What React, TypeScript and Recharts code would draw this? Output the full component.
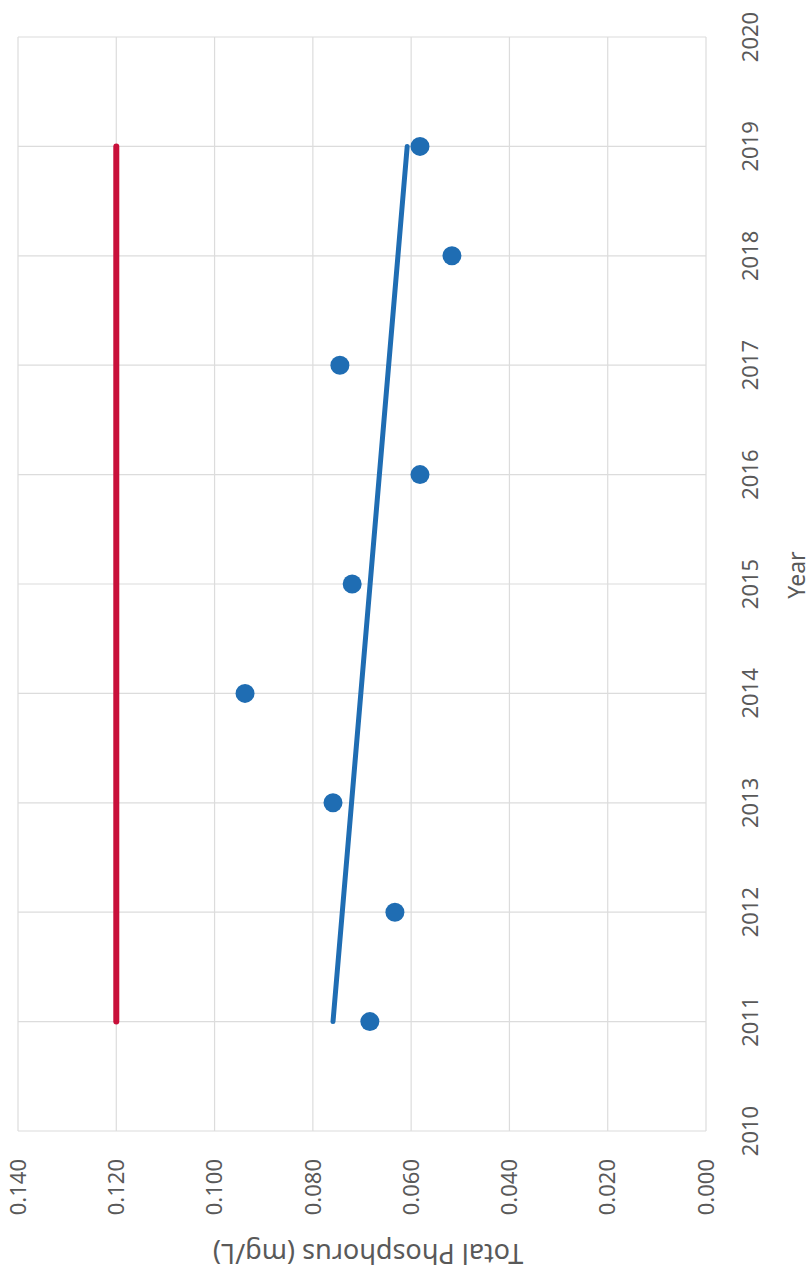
import React from 'react';
import { ScatterChart, Scatter, XAxis, YAxis, CartesianGrid, Label } from 'recharts';

const years = [2011, 2012, 2013, 2014, 2015, 2016, 2017, 2018, 2019];
const tpValues = [0.0684, 0.0633, 0.0759, 0.0938, 0.072, 0.0582, 0.0745, 0.0517, 0.0582];
const trendYears = [2011, 2019];
const trendValues = [0.0759, 0.0608];
const limitYears = [2011, 2019];
const limitValues = [0.12, 0.12];
const tpTicks = [0, 0.02, 0.04, 0.06, 0.08, 0.1, 0.12, 0.14];
const yearTicks = [2010, 2011, 2012, 2013, 2014, 2015, 2016, 2017, 2018, 2019, 2020];

const points = years.map((y, i) => ({ year: y, tp: tpValues[i] }));
const trend = trendYears.map((y, i) => ({ year: y, tp: trendValues[i] }));
const limit = limitYears.map((y, i) => ({ year: y, tp: limitValues[i] }));

const FONT = '"Noto Sans", sans-serif';
const TXT = '#595959';

const XTick = (props: any) => {
  const { x, payload } = props;
  return (
    <text
      transform={`translate(${x},1159) rotate(-90)`}
      textAnchor="end"
      dy="0.35em"
      fontSize={22}
      fontFamily={FONT}
      fill={TXT}
    >
      {Number(payload.value).toFixed(3)}
    </text>
  );
};

const YTick = (props: any) => {
  const { y, payload } = props;
  return (
    <text
      transform={`translate(750,${y}) rotate(-90)`}
      textAnchor="middle"
      dy="0.35em"
      fontSize={22}
      fontFamily={FONT}
      fill={TXT}
    >
      {payload.value}
    </text>
  );
};

const XTitle = (props: any) => {
  const vb = props.viewBox || {};
  const cx = (vb.x ?? 18) + (vb.width ?? 688) / 2 + 6;
  return (
    <text
      transform={`translate(${cx},1253) rotate(180)`}
      textAnchor="middle"
      dy="0.35em"
      fontSize={27}
      fontFamily={FONT}
      fill={TXT}
    >
      Total Phosphorus (mg/L)
    </text>
  );
};

const YTitle = (props: any) => {
  const vb = props.viewBox || {};
  const cy = (vb.y ?? 37) + (vb.height ?? 1094) / 2 - 9;
  return (
    <text
      transform={`translate(797,${cy}) rotate(-90)`}
      textAnchor="middle"
      dy="0.35em"
      fontSize={23}
      fontFamily={FONT}
      fill={TXT}
    >
      Year
    </text>
  );
};

const Dot = (props: any) => {
  const { cx, cy } = props;
  return <circle cx={cx} cy={cy} r={9.5} fill="#1f6db3" />;
};

const NoShape = () => <g />;

export default function App() {
  return (
    <div style={{ position: 'absolute', left: 0, top: 0, background: '#fff' }}>
      <ScatterChart
        width={812}
        height={1279}
        margin={{ top: 37, left: 18, right: 0, bottom: 0 }}
      >
        <CartesianGrid stroke="#dcdcdc" strokeWidth={1.2} />
        <XAxis
          type="number"
          dataKey="tp"
          domain={[0, 0.14]}
          ticks={tpTicks}
          reversed
          height={148}
          axisLine={false}
          tickLine={false}
          tick={<XTick />}
          interval={0}
        >
          <Label content={<XTitle />} />
        </XAxis>
        <YAxis
          type="number"
          dataKey="year"
          orientation="right"
          domain={[2010, 2020]}
          ticks={yearTicks}
          width={106}
          axisLine={false}
          tickLine={false}
          tick={<YTick />}
          interval={0}
        >
          <Label content={<YTitle />} />
        </YAxis>
        <Scatter
          data={limit}
          line={{ stroke: '#c8103a', strokeWidth: 6, strokeLinecap: 'round' } as any}
          shape={<NoShape />}
          isAnimationActive={false}
        />
        <Scatter
          data={trend}
          line={{ stroke: '#1f6db3', strokeWidth: 5, strokeLinecap: 'round' } as any}
          shape={<NoShape />}
          isAnimationActive={false}
        />
        <Scatter data={points} shape={<Dot />} isAnimationActive={false} />
      </ScatterChart>
    </div>
  );
}
